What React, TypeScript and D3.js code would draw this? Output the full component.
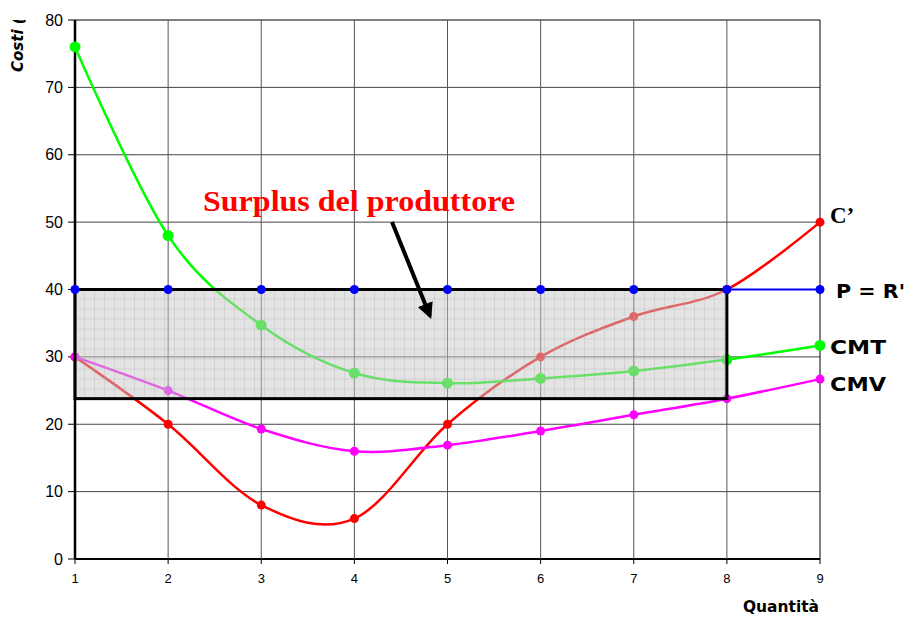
import React from "react";
import * as d3 from "d3";

const quantities = [1, 2, 3, 4, 5, 6, 7, 8, 9];
const costoMarginale = [30, 20, 8, 6, 20, 30, 36, 40, 50];
const prezzo = [40, 40, 40, 40, 40, 40, 40, 40, 40];
const costoMedioTotale = [76, 48, 34.7, 27.6, 26.1, 26.8, 27.9, 29.6, 31.7];
const costoMedioVariabile = [30, 25, 19.3, 16, 16.9, 19, 21.4, 23.8, 26.7];
const yTicks = [0, 10, 20, 30, 40, 50, 60, 70, 80];
const surplusRange = { q0: 1, q1: 8, p0: 23.8, p1: 40 };

const W = 915;
const H = 617;
const left = 75;
const right = 820;
const top = 20;
const bottom = 559;

export default function App() {
  const x = d3.scaleLinear().domain([1, 9]).range([left, right]);
  const y = d3.scaleLinear().domain([0, 80]).range([bottom, top]);
  const line = d3
    .line<number>()
    .x((_, i) => x(quantities[i]))
    .y((d) => y(d))
    .curve(d3.curveCardinal.tension(0));

  const series = [
    { vals: costoMarginale, color: "#ff0000", r: 4.5 },
    { vals: costoMedioVariabile, color: "#ff00ff", r: 4.5 },
    { vals: costoMedioTotale, color: "#00ff00", r: 5.5 },
  ];

  const rx0 = x(surplusRange.q0);
  const rx1 = x(surplusRange.q1);
  const ry0 = y(surplusRange.p1);
  const ry1 = y(surplusRange.p0);

  const arrowStart = [392, 222];
  const arrowEnd = [430, 316];

  return (
    <svg
      width={W}
      height={H}
      style={{ position: "absolute", left: 0, top: 0, background: "#fff" }}
    >
      <defs>
        <pattern id="grid" width={10} height={10} patternUnits="userSpaceOnUse" x={rx0} y={ry0}>
          <rect width={10} height={10} fill="rgba(200,200,200,0.5)" />
          <path d="M10 0 V10 M0 10 H10" stroke="rgba(170,170,170,0.6)" strokeWidth={1} fill="none" />
        </pattern>
        <marker id="ah" viewBox="0 0 10 10" refX={8} refY={5} markerWidth={4} markerHeight={4} orient="auto">
          <path d="M0 0 L10 5 L0 10 Z" fill="#000" />
        </marker>
        <clipPath id="titleClip">
          <rect x={0} y={20} width={40} height={80} />
        </clipPath>
      </defs>

      {/* grid */}
      {yTicks.map((t) => (
        <line key={"h" + t} x1={left} x2={right} y1={y(t)} y2={y(t)} stroke={t === 0 || t === 80 ? "#000" : "#444"} strokeWidth={t === 0 ? 2 : 1} />
      ))}
      {quantities.map((q) => (
        <line key={"v" + q} x1={x(q)} x2={x(q)} y1={top} y2={bottom} stroke={q === 1 ? "#000" : q === 9 ? "#000" : "#555"} strokeWidth={q === 1 ? 2.5 : 1} />
      ))}

      {/* y ticks */}
      {yTicks.map((t) => (
        <g key={"yt" + t}>
          <line x1={left - 7} x2={left} y1={y(t)} y2={y(t)} stroke="#000" />
          <text x={left - 12} y={y(t)} dy="0.35em" textAnchor="end" fontFamily="Liberation Sans, Arial, sans-serif" fontSize={16} fill="#000">
            {t}
          </text>
        </g>
      ))}
      {/* x ticks */}
      {quantities.map((q) => (
        <g key={"xt" + q}>
          <line x1={x(q)} x2={x(q)} y1={bottom} y2={bottom + 5} stroke="#000" />
          <text x={x(q)} y={bottom + 24} textAnchor="middle" fontFamily="Liberation Sans, Arial, sans-serif" fontSize={13} fill="#000">
            {q}
          </text>
        </g>
      ))}

      {/* axis titles */}
      <g clipPath="url(#titleClip)">
        <text
          transform={`translate(23,72) rotate(-90)`}
          fontFamily="DejaVu Sans, sans-serif"
          fontWeight="bold"
          fontStyle="italic"
          fontSize={15}
          fill="#000"
        >
          Costi (€)
        </text>
      </g>
      <text x={819} y={612} textAnchor="end" fontFamily="DejaVu Sans, sans-serif" fontWeight="bold" fontSize={15} fill="#000" textLength={76} lengthAdjust="spacingAndGlyphs">
        Quantità
      </text>

      {/* blue price line */}
      <path d={line(prezzo) || ""} fill="none" stroke="#0000ff" strokeWidth={2} />

      {/* curves */}
      {series.map((s, si) => (
        <g key={"s" + si}>
          <path d={line(s.vals) || ""} fill="none" stroke={s.color} strokeWidth={2.5} />
          {s.vals.map((v, i) => (
            <circle key={i} cx={x(quantities[i])} cy={y(v)} r={s.r} fill={s.color} />
          ))}
        </g>
      ))}

      {/* surplus rectangle */}
      <rect x={rx0} y={ry0} width={rx1 - rx0} height={ry1 - ry0} fill="url(#grid)" />
      <rect x={rx0} y={ry0} width={rx1 - rx0} height={ry1 - ry0} fill="none" stroke="#000" strokeWidth={3} />

      {/* blue dots */}
      {prezzo.map((v, i) => (
        <circle key={"b" + i} cx={x(quantities[i])} cy={y(v)} r={4.5} fill="#0000ff" />
      ))}

      {/* labels */}
      <text x={830} y={223} fontFamily="Liberation Serif, Times New Roman, serif" fontWeight="bold" fontSize={23} fill="#000">
        C’
      </text>
      <text x={836} y={298} fontFamily="DejaVu Sans, sans-serif" fontWeight="bold" fontSize={20} fill="#000" textLength={69} lengthAdjust="spacingAndGlyphs">
        P = R'
      </text>
      <text x={830} y={354} fontFamily="DejaVu Sans, sans-serif" fontWeight="bold" fontSize={20} fill="#000" textLength={56} lengthAdjust="spacingAndGlyphs">
        CMT
      </text>
      <text x={830} y={391} fontFamily="DejaVu Sans, sans-serif" fontWeight="bold" fontSize={20} fill="#000" textLength={56} lengthAdjust="spacingAndGlyphs">
        CMV
      </text>

      <text x={203} y={211} fontFamily="Liberation Serif, Times New Roman, serif" fontWeight="bold" fontSize={29} fill="#ff0000" textLength={312} lengthAdjust="spacingAndGlyphs">
        Surplus del produttore
      </text>
      <line x1={arrowStart[0]} y1={arrowStart[1]} x2={arrowEnd[0]} y2={arrowEnd[1]} stroke="#000" strokeWidth={4} markerEnd="url(#ah)" />
    </svg>
  );
}
